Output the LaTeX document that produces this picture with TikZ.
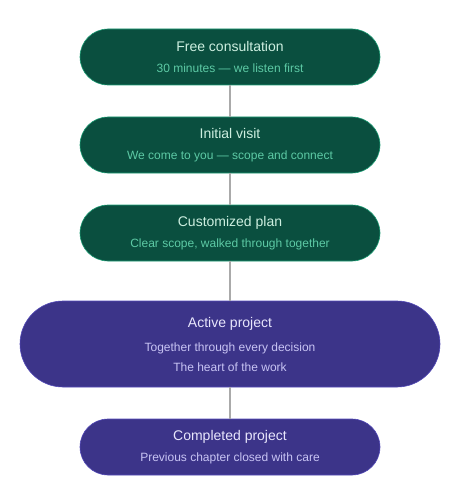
\documentclass[tikz,border=0pt]{standalone}
\usepackage{xcolor}
\usepackage{fontspec}
\setmainfont{Liberation Sans}
\usepackage{tikz}
\usetikzlibrary{positioning}
\definecolor{tealfill}{HTML}{0A4F3F}
\definecolor{tealline}{HTML}{1D9E75}
\definecolor{tealtitle}{HTML}{CDEFE0}
\definecolor{tealsub}{HTML}{5DCAA5}
\definecolor{purpfill}{HTML}{3C3489}
\definecolor{purpline}{HTML}{534AB7}
\definecolor{purptitle}{HTML}{E8E6FC}
\definecolor{purpsub}{HTML}{C8C4F4}
\definecolor{linkgray}{HTML}{AAAAAA}
\newcommand{\stitle}[1]{{\fontsize{14}{20}\selectfont #1}}
\tikzset{
  stagebox/.style={rectangle, rounded corners=28pt, fill=tealfill, draw=tealline,
                   line width=0.6pt, minimum width=300pt, minimum height=56pt,
                   align=center, text=tealsub, font=\fontsize{12}{20}\selectfont},
  bigbox/.style={rectangle, rounded corners=43pt, fill=purpfill, draw=purpline,
                 line width=0.6pt, minimum width=420pt, minimum height=86pt,
                 align=center, text=purpsub, font=\fontsize{12}{20}\selectfont},
  endbox/.style={stagebox, fill=purpfill, draw=purpline, text=purpsub},
  link/.style={draw=linkgray, line width=1.5pt},
}
\begin{document}
\begin{tikzpicture}[x=1pt, y=1pt, node distance=31.4pt]
    \useasboundingbox (0,0) rectangle (460,-500);
    \node[stagebox] (consult) at (230,-57)
      {\stitle{\color{tealtitle}Free consultation}\\[0.5pt]30 minutes — we listen first};
    \node[stagebox, below=of consult] (visit)
      {\stitle{\color{tealtitle}Initial visit}\\[0.5pt]We come to you — scope and connect};
    \node[stagebox, below=of visit] (plan)
      {\stitle{\color{tealtitle}Customized plan}\\[0.5pt]Clear scope, walked through together};
    \node[bigbox, below=39.4pt of plan] (active)
      {\stitle{\color{purptitle}Active project}\\[4pt]Together through every decision\\The heart of the work};
    \node[endbox, below=of active] (done)
      {\stitle{\color{purptitle}Completed project}\\[0.5pt]Previous chapter closed with care};
    \draw[link] (consult) -- (visit);
    \draw[link] (visit) -- (plan);
    \draw[link] (plan) -- (active);
    \draw[link] (active) -- (done);
  \end{tikzpicture}
\end{document}
